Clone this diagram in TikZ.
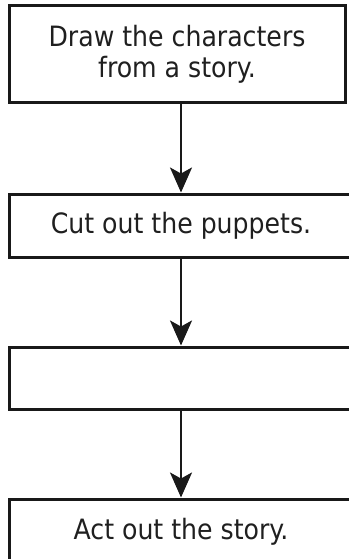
\documentclass[tikz,border=0pt]{standalone}
\usepackage{fontspec}
\setmainfont{DejaVu Sans Condensed}
\usetikzlibrary{arrows.meta}

\begin{document}
\begin{tikzpicture}[x=1pt,y=-1pt]
\tikzstyle{fleche}=[-{Stealth[length=25pt,width=22pt,inset=6pt]},line width=2.2pt,draw=black!90]
\tikzset{etape/.style={draw=black!90,line width=3pt,minimum width=#1,inner sep=0pt,align=center,
font=\fontsize{28}{31}\selectfont,text=black!88},
etape/.default={344pt}}
\useasboundingbox (0,0) rectangle (348,559);
\node[etape=336pt,minimum height=97pt] (E1) at (177,54.5) {Draw the characters\\from a story.};
\node[etape,minimum height=63pt] (E2) at (181,225.5) {Cut out the puppets.};
\node[etape,minimum height=62pt] (E3) at (181,378) {};
\node[etape,minimum height=66pt] (E4) at (181,532) {Act out the story.};

\draw[fleche] (E1.south -| E2.north) -- (E2.north);
\draw[fleche] (E2) -- (E3);
\draw[fleche] (E3) -- (E4);

\end{tikzpicture}
\end{document}
